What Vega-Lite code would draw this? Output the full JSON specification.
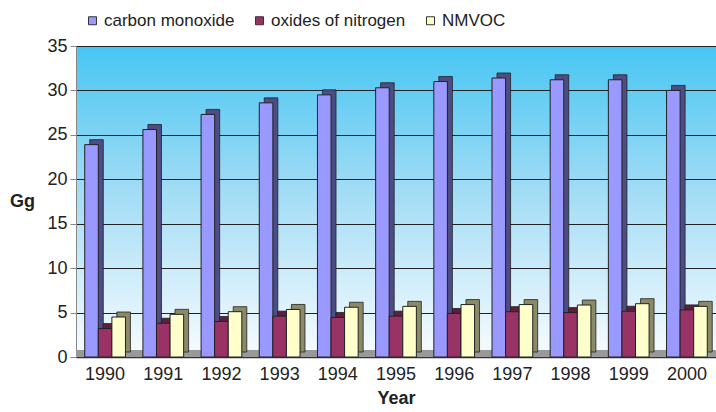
{
  "$schema": "https://vega.github.io/schema/vega-lite/v6.json",
  "width": 640,
  "height": 311,
  "autosize": "none",
  "padding": {"left": 76, "top": 46, "right": 0, "bottom": 55},
  "background": "white",
  "config": {
    "font": "Liberation Sans",
    "view": {
      "stroke": null,
      "fill": {
        "gradient": "linear", "x1": 0, "y1": 0, "x2": 0, "y2": 1,
        "stops": [
          {"offset": 0, "color": "#46c6f3"},
          {"offset": 0.45, "color": "#9fdbf5"},
          {"offset": 1, "color": "#f8fcff"}
        ]
      }
    }
  },
  "data": {
    "values": [
      {"year": "1990", "series": "carbon monoxide", "value": 23.9},
      {"year": "1991", "series": "carbon monoxide", "value": 25.6},
      {"year": "1992", "series": "carbon monoxide", "value": 27.3},
      {"year": "1993", "series": "carbon monoxide", "value": 28.6},
      {"year": "1994", "series": "carbon monoxide", "value": 29.5},
      {"year": "1995", "series": "carbon monoxide", "value": 30.3},
      {"year": "1996", "series": "carbon monoxide", "value": 31.0},
      {"year": "1997", "series": "carbon monoxide", "value": 31.4},
      {"year": "1998", "series": "carbon monoxide", "value": 31.2},
      {"year": "1999", "series": "carbon monoxide", "value": 31.2},
      {"year": "2000", "series": "carbon monoxide", "value": 30.0},
      {"year": "1990", "series": "oxides of nitrogen", "value": 3.2},
      {"year": "1991", "series": "oxides of nitrogen", "value": 3.8},
      {"year": "1992", "series": "oxides of nitrogen", "value": 4.0},
      {"year": "1993", "series": "oxides of nitrogen", "value": 4.6},
      {"year": "1994", "series": "oxides of nitrogen", "value": 4.45},
      {"year": "1995", "series": "oxides of nitrogen", "value": 4.6},
      {"year": "1996", "series": "oxides of nitrogen", "value": 4.9},
      {"year": "1997", "series": "oxides of nitrogen", "value": 5.1},
      {"year": "1998", "series": "oxides of nitrogen", "value": 5.0},
      {"year": "1999", "series": "oxides of nitrogen", "value": 5.15},
      {"year": "2000", "series": "oxides of nitrogen", "value": 5.3},
      {"year": "1990", "series": "NMVOC", "value": 4.5},
      {"year": "1991", "series": "NMVOC", "value": 4.8},
      {"year": "1992", "series": "NMVOC", "value": 5.1},
      {"year": "1993", "series": "NMVOC", "value": 5.35},
      {"year": "1994", "series": "NMVOC", "value": 5.6},
      {"year": "1995", "series": "NMVOC", "value": 5.7},
      {"year": "1996", "series": "NMVOC", "value": 5.9},
      {"year": "1997", "series": "NMVOC", "value": 5.9},
      {"year": "1998", "series": "NMVOC", "value": 5.85},
      {"year": "1999", "series": "NMVOC", "value": 6.0},
      {"year": "2000", "series": "NMVOC", "value": 5.7}
    ]
  },
  "encoding": {
    "x": {
      "field": "year", "type": "ordinal",
      "scale": {"paddingInner": 0.3, "paddingOuter": 0.15},
      "axis": {
        "title": "Year", "titleFontSize": 18, "titleFontWeight": "bold", "titleColor": "#222",
        "titlePadding": 6,
        "labelAngle": 0, "labelFontSize": 18, "labelColor": "#222", "labelPadding": 8,
        "ticks": false, "domain": true, "domainColor": "#333", "domainWidth": 1.5
      }
    }
  },
  "layer": [
    {
      "mark": {"type": "rect", "color": "#999999"},
      "encoding": {
        "x": null,
        "y": {"datum": 0, "type": "quantitative"},
        "y2": {"datum": 0.7}
      }
    },
    {
      "mark": {"type": "bar", "yOffset": -5, "y2Offset": -5, "stroke": "#222", "strokeWidth": 0.8},
      "encoding": {
        "xOffset": {"field": "series", "sort": ["carbon monoxide", "oxides of nitrogen", "NMVOC"], "scale": {"range": [5, 45.7]}},
        "y": {"field": "value", "type": "quantitative"},
        "color": {
          "field": "series", "type": "nominal",
          "scale": {"domain": ["carbon monoxide", "oxides of nitrogen", "NMVOC"], "range": ["#4d4d85", "#5e1f3e", "#8a8a68"]},
          "legend": null
        }
      }
    },
    {
      "mark": {"type": "bar", "stroke": "#222", "strokeWidth": 1},
      "encoding": {
        "xOffset": {"field": "series", "sort": ["carbon monoxide", "oxides of nitrogen", "NMVOC"]},
        "y": {
          "field": "value", "type": "quantitative",
          "scale": {"domain": [0, 35]},
          "axis": {
            "title": "Gg", "titleAngle": 0, "titleFontSize": 18, "titleFontWeight": "bold", "titleColor": "#222",
            "titleX": -54, "titleY": 155, "titleAlign": "center", "titleBaseline": "middle",
            "values": [0, 5, 10, 15, 20, 25, 30, 35],
            "labelFontSize": 18, "labelColor": "#222", "labelPadding": 3,
            "tickSize": 6, "tickColor": "#888", "domainColor": "#888",
            "grid": true, "gridColor": "#222", "gridWidth": 1
          }
        },
        "color": {
          "field": "series", "type": "nominal",
          "scale": {"domain": ["carbon monoxide", "oxides of nitrogen", "NMVOC"], "range": ["#9999ff", "#993366", "#ffffcc"]},
          "legend": {
            "title": null, "orient": "none", "direction": "horizontal",
            "legendX": 8, "legendY": -34, "padding": 0,
            "symbolType": "square", "symbolSize": 64, "symbolStrokeColor": "#333", "symbolStrokeWidth": 1,
            "labelFontSize": 17, "labelColor": "#222", "labelOffset": 3, "columnPadding": 16
          }
        }
      }
    }
  ],
  "resolve": {"scale": {"color": "independent", "xOffset": "independent"}}
}
